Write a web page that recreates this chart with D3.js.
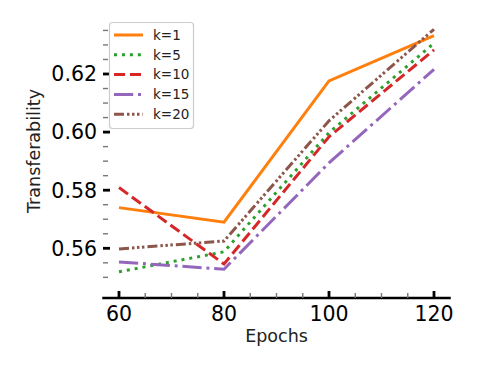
<!DOCTYPE html>
<html>
<head>
<meta charset="utf-8">
<script src="https://cdn.jsdelivr.net/npm/d3@7"></script>
<style>
html,body{margin:0;padding:0;background:#fff;}
svg{display:block;font-family:"DejaVu Sans",sans-serif;}
</style>
</head>
<body>
<svg id="chart" width="480" height="366"></svg>
<script>
const epochs = [60, 80, 100, 120];
const seriesNames = ["k=1", "k=5", "k=10", "k=15", "k=20"];
const k1  = [0.5740, 0.5690, 0.6176, 0.6332];
const k5  = [0.5519, 0.5588, 0.5998, 0.6306];
const k10 = [0.5809, 0.5546, 0.5984, 0.6283];
const k15 = [0.5553, 0.5528, 0.5894, 0.6216];
const k20 = [0.5598, 0.5625, 0.6039, 0.6354];
const seriesValues = [k1, k5, k10, k15, k20];
const xTickValues = [60, 80, 100, 120];
const yTickLabels = ["0.56", "0.58", "0.60", "0.62"];

const colors = ["#ff7f0e", "#2ca02c", "#d62728", "#9467bd", "#8c564b"];
const dashes = [null, "3,4.95", "11.1,4.8", "19.2,4.8,3,4.8", "10,3,2.5,2.5,2.5,2.5,2.5,3"];

const svg = d3.select("#chart");
const x = d3.scaleLinear().domain([57, 123]).range([103.25, 449.75]);
const y = d3.scaleLinear().domain([0.56, 0.62]).range([248.3, 74]);

// minor y ticks
const yMinor = d3.range(0.55, 0.6351, 0.005).filter(v => Math.abs((v*1000) % 20) > 1e-6 && Math.abs(((v*1000) % 20) - 20) > 1e-6);
const yMajor = yTickLabels.map(Number);
svg.append("g").selectAll("line").data(yMinor).join("line")
  .attr("x1", 103).attr("x2", 108)
  .attr("y1", d => y(d)).attr("y2", d => y(d))
  .attr("stroke", "#777").attr("stroke-width", 1.4);
svg.append("g").selectAll("line").data(yMajor).join("line")
  .attr("x1", 103).attr("x2", 110)
  .attr("y1", d => y(d)).attr("y2", d => y(d))
  .attr("stroke", "#000").attr("stroke-width", 2.8);
svg.append("g").selectAll("text").data(yTickLabels).join("text")
  .attr("x", 97).attr("y", d => y(+d))
  .attr("dy", "0.36em")
  .attr("text-anchor", "end")
  .attr("font-size", 20.5).attr("fill", "#000")
  .text(d => d);

// x axis
const axisY = 298;
svg.append("line")
  .attr("x1", x(57) - 1).attr("x2", x(123) + 1)
  .attr("y1", axisY).attr("y2", axisY)
  .attr("stroke", "#000").attr("stroke-width", 2.6);
const xMinor = d3.range(65, 120, 5).filter(v => v % 20 !== 0);
svg.append("g").selectAll("line").data(xMinor).join("line")
  .attr("x1", d => x(d)).attr("x2", d => x(d))
  .attr("y1", axisY - 5).attr("y2", axisY)
  .attr("stroke", "#777").attr("stroke-width", 1.4);
svg.append("g").selectAll("line").data(xTickValues).join("line")
  .attr("x1", d => x(d)).attr("x2", d => x(d))
  .attr("y1", axisY - 7).attr("y2", axisY)
  .attr("stroke", "#000").attr("stroke-width", 2.8);
svg.append("g").selectAll("text").data(xTickValues).join("text")
  .attr("x", d => x(d)).attr("y", 321)
  .attr("text-anchor", "middle")
  .attr("font-size", 20.5).attr("fill", "#000")
  .text(d => d);

// axis labels
svg.append("text")
  .attr("x", (x(57) + x(123)) / 2).attr("y", 342)
  .attr("text-anchor", "middle")
  .attr("font-size", 17.5).attr("fill", "#222")
  .text("Epochs");
svg.append("text")
  .attr("transform", "translate(40,151) rotate(-90)")
  .attr("text-anchor", "middle")
  .attr("font-size", 17.5).attr("fill", "#222")
  .text("Transferability");

// lines
const line = d3.line().x((d, i) => x(epochs[i])).y(d => y(d));
seriesValues.forEach((vals, i) => {
  svg.append("path")
    .attr("d", line(vals))
    .attr("fill", "none")
    .attr("stroke", colors[i])
    .attr("stroke-width", 3)
    .attr("stroke-linejoin", "miter")
    .attr("stroke-dasharray", dashes[i]);
});

// legend
const lg = svg.append("g");
lg.append("rect")
  .attr("x", 109.5).attr("y", 22.5).attr("width", 84).attr("height", 106)
  .attr("rx", 3).attr("fill", "#fff").attr("fill-opacity", 0.8)
  .attr("stroke", "#ccc").attr("stroke-width", 1.2);
seriesNames.forEach((name, i) => {
  const cy = 35 + i * 19.8;
  lg.append("line")
    .attr("x1", 114).attr("x2", 143)
    .attr("y1", cy).attr("y2", cy)
    .attr("stroke", colors[i]).attr("stroke-width", 3)
    .attr("stroke-dasharray", dashes[i]);
  lg.append("text")
    .attr("x", 153).attr("y", cy).attr("dy", "0.36em")
    .attr("font-size", 13.5).attr("fill", "#222")
    .text(name);
});
</script>
</body>
</html>
